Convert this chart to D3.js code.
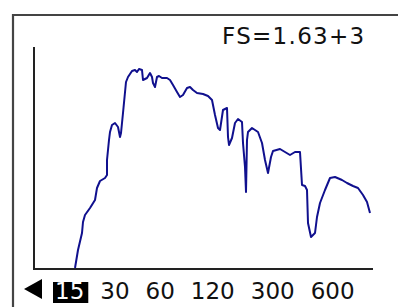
<!DOCTYPE html>
<html><head><meta charset="utf-8">
<script src="https://cdn.jsdelivr.net/npm/d3@7"></script>
<style>
html,body{margin:0;padding:0;background:#fff;overflow:hidden;}
svg{display:block;}
text{font-family:"DejaVu Sans",Verdana,sans-serif;}
</style></head>
<body>
<svg id="c" width="398" height="307"></svg>
<script>
// Spectrum trace: bin index and level
const bins   = [41,44,48,49,51,56,61,63,66,71,73,73,75,76,78,81,84,86,87,89,92,94,98,101,103,105,108,109,113,116,118,119,121,123,125,128,133,136,139,143,146,149,153,156,159,163,169,174,178,181,184,186,189,193,194,195,198,201,204,208,209,211,212,213,214,218,224,228,231,234,237,239,246,251,256,261,266,268,271,273,274,277,281,283,286,291,296,301,308,313,319,324,329,333,336];
const levels = [1,19,36,47,54,61,69,81,88,91,94,109,129,137,144,146,142,132,136,156,187,192,198,199,197,200,199,189,191,196,192,186,182,192,193,191,191,189,184,177,172,174,181,182,179,176,175,173,169,154,141,139,159,161,132,124,131,146,150,147,126,102,77,129,137,141,137,126,109,96,112,118,120,117,114,117,117,84,83,79,46,32,36,52,66,79,91,92,89,86,83,81,74,67,56];
const tickLabels = ["15","30","60","120","300","600"];
const selectedTick = "15";
const scaleText = "FS=1.63+3";

const svg = d3.select("#c");
const x = d3.scaleLinear().domain([0, 340]).range([34, 374]);
const y = d3.scaleLinear().domain([0, 224]).range([269, 45]);

// outer frame
svg.append("path").attr("d","M13,310V15H400")
  .attr("fill","none").attr("stroke","#444").attr("stroke-width",2.2);

// axes
svg.append("line").attr("x1",x(0)).attr("x2",x(0)).attr("y1",y(222)).attr("y2",y(0)+1)
  .attr("stroke","#222").attr("stroke-width",2);
svg.append("line").attr("x1",x(0)).attr("x2",x(339)).attr("y1",y(0)).attr("y2",y(0))
  .attr("stroke","#222").attr("stroke-width",2);

// trace
const pts = bins.map((b,i)=>[b, levels[i]]);
svg.append("path").datum(pts)
  .attr("d", d3.line().x(d=>x(d[0])).y(d=>y(d[1])))
  .attr("fill","none").attr("stroke","#10108e").attr("stroke-width",2)
  .attr("stroke-linejoin","round");

// FS label
svg.append("text").attr("x",222).attr("y",44).attr("font-size",23)
  .attr("letter-spacing",1.3).attr("fill","#111").text(scaleText);

// left arrow
svg.append("path").attr("d","M24,289L42,279V299Z").attr("fill","#000");

// tick labels laid out left to right
let cx = 55;
const gap = 16;
tickLabels.forEach(t=>{
  const g = svg.append("g");
  const tx = g.append("text").attr("x",cx).attr("y",299).attr("font-size",23)
    .attr("fill", t===selectedTick ? "#fff" : "#111").text(t);
  const bb = tx.node().getBBox();
  if (t===selectedTick) {
    g.insert("rect","text").attr("x",bb.x-2).attr("y",282)
      .attr("width",bb.width+6).attr("height",21).attr("fill","#000");
  }
  cx += bb.width + gap;
});
</script>
</body></html>
